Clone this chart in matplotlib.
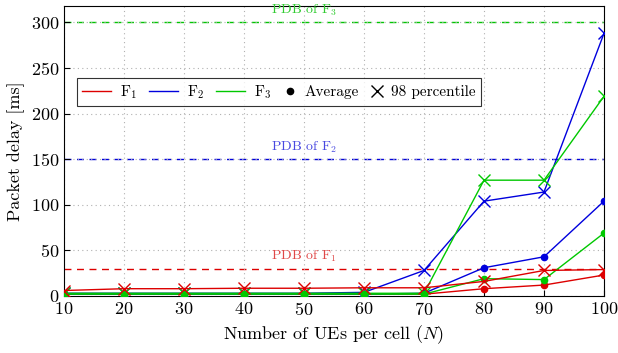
import matplotlib
matplotlib.use("Agg")
import matplotlib.pyplot as plt
from matplotlib.lines import Line2D
from matplotlib.legend_handler import HandlerLine2D

plt.rcParams["font.family"] = "cmr10"
plt.rcParams["mathtext.fontset"] = "cm"
plt.rcParams["axes.formatter.use_mathtext"] = True

N = [10, 20, 30, 40, 50, 60, 70, 80, 90, 100]

f1_avg = [2, 2, 2, 2, 2, 2, 2, 8, 12, 23]
f1_p98 = [6, 8, 8, 8.5, 8.5, 9, 9, 16, 28, 29]
f2_avg = [2, 2, 2, 2, 2, 2, 3, 31, 43, 104]
f2_p98 = [3, 3, 3, 3, 3, 4, 28, 104, 114, 288]
f3_avg = [2, 2, 2, 2, 2, 2, 2, 19, 18, 69]
f3_p98 = [3, 3, 3, 3, 3, 3, 3, 127, 127, 219]

pdb = [30, 150, 300]
pdb_labels = ["PDB of F$_1$", "PDB of F$_2$", "PDB of F$_3$"]

red, blue, green = "#dd0000", "#0000dd", "#00c800"
label_colors = ["#e04848", "#4848e0", "#30cc30"]


class NarrowHandler(HandlerLine2D):
    # marker-only legend entries get a short handle box
    def legend_artist(self, legend, orig_handle, fontsize, handlebox):
        handlebox.width = 0.8 * fontsize
        return super().legend_artist(legend, orig_handle, fontsize, handlebox)


fig = plt.figure(figsize=(6.18, 3.53), dpi=100)
ax = fig.add_axes([64 / 618, 57 / 353, 540 / 618, 290 / 353])

# PDB thresholds
for val, lab, c, lc in zip(pdb, pdb_labels, [red, blue, green], label_colors):
    ax.axhline(val, color=c, ls=(0, (5, 4)), lw=1, zorder=1)
    ax.text(50, val + 13, lab, color=lc, fontsize=10, ha="center", va="center")

# averages
ax.plot(N, f1_avg, color=red, marker="o", ms=4.5, lw=1, zorder=3)
ax.plot(N, f2_avg, color=blue, marker="o", ms=4.5, lw=1, zorder=3)
ax.plot(N, f3_avg, color=green, marker="o", ms=4.5, lw=1, zorder=4)

# 98 percentiles
ax.plot(N, f2_p98, color=blue, marker="x", ms=8, mew=1, lw=1, zorder=3)
ax.plot(N, f3_p98, color=green, marker="x", ms=8, mew=1, lw=1, zorder=4)
ax.plot(N, f1_p98, color=red, marker="x", ms=8, mew=1, lw=1, zorder=5)

ax.set_xlim(10, 100)
ax.set_ylim(0, 318)
ax.set_xticks(N)
ax.set_yticks(range(0, 301, 50))
ax.tick_params(direction="in", labelsize=13, length=4)
ax.grid(True, ls=(0, (1, 3)), color="#b0b0b0", lw=0.8)
ax.set_xlabel("Number of UEs per cell ($N$)", fontsize=13)
ax.set_ylabel("Packet delay [ms]", fontsize=13)

handles = [
    Line2D([], [], color=red, lw=1),
    Line2D([], [], color=blue, lw=1),
    Line2D([], [], color=green, lw=1),
    Line2D([], [], color="black", marker="o", ls="none", ms=4.5),
    Line2D([], [], color="black", marker="x", ls="none", ms=9),
]
labels = ["F$_1$", "F$_2$", "F$_3$", "Average", "98 percentile"]
leg = ax.legend(handles, labels, ncol=5, loc="upper left",
                bbox_to_anchor=(0.024, 0.752), borderaxespad=0, fontsize=11,
                frameon=True, fancybox=False, edgecolor="black",
                handlelength=1.9, columnspacing=0.8, handletextpad=0.55,
                borderpad=0.35,
                handler_map={handles[3]: NarrowHandler(),
                             handles[4]: NarrowHandler()})
leg.get_frame().set_linewidth(0.8)

fig.savefig("out.png", dpi=100)
